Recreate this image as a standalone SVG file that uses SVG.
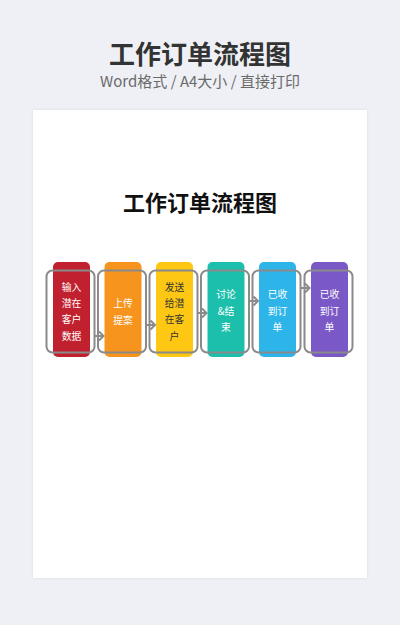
<svg xmlns="http://www.w3.org/2000/svg" width="400" height="625" viewBox="0 0 400 625">
<defs>
<style>
.hd{font-family:"Noto Sans CJK SC","Noto Sans",sans-serif;text-anchor:middle}
.t{font-family:"Noto Sans CJK SC","Noto Sans",sans-serif;font-size:9.8px;text-anchor:middle;fill:#fff}
.dk{fill:#333}
.ol{fill:none;stroke:#8a8a8a;stroke-width:2}
.ar{fill:none;stroke:#8a8a8a;stroke-width:2;stroke-linejoin:miter}
</style>
<filter id="sh" x="-5%" y="-5%" width="110%" height="110%"><feDropShadow dx="0" dy="0" stdDeviation="1.5" flood-color="#000" flood-opacity="0.08"/></filter>
</defs>
<rect width="400" height="625" fill="#eef0f5"/>
<text class="hd" x="200" y="64" font-size="26" font-weight="bold" fill="#333">工作订单流程图</text>
<text class="hd" x="200" y="87" font-size="15" fill="#6b6b6b">Word格式 / A4大小 / 直接打印</text>
<rect x="33" y="110" width="334" height="468" fill="#fff" filter="url(#sh)"/>
<text class="hd" x="200" y="211" font-size="22" font-weight="bold" fill="#111">工作订单流程图</text>

<g id="n1"><rect x="53" y="262" width="37" height="95" rx="5" fill="#c1212e"/><text class="t"><tspan x="71.5" y="290.5">输入</tspan><tspan x="71.5" y="307">潜在</tspan><tspan x="71.5" y="323">客户</tspan><tspan x="71.5" y="339.5">数据</tspan></text></g>
<g id="n2"><rect x="104.5" y="262" width="37" height="95" rx="5" fill="#f7941d"/><text class="t"><tspan x="123" y="307">上传</tspan><tspan x="123" y="323.5">提案</tspan></text></g>
<g id="n3"><rect x="156" y="262" width="37" height="95" rx="5" fill="#fdc713"/><text class="t dk"><tspan x="174.5" y="290.5">发送</tspan><tspan x="174.5" y="307">给潜</tspan><tspan x="174.5" y="323">在客</tspan><tspan x="174.5" y="339.5">户</tspan></text></g>
<g id="n4"><rect x="207.5" y="262" width="37" height="95" rx="5" fill="#1cbfab"/><text class="t"><tspan x="226" y="298">讨论</tspan><tspan x="226" y="314.5">&amp;结</tspan><tspan x="226" y="331">束</tspan></text></g>
<g id="n5"><rect x="259" y="262" width="37" height="95" rx="5" fill="#2db5ea"/><text class="t"><tspan x="277.5" y="298">已收</tspan><tspan x="277.5" y="314.5">到订</tspan><tspan x="277.5" y="331">单</tspan></text></g>
<g id="n6"><rect x="311" y="262" width="37" height="95" rx="5" fill="#7a58c6"/><text class="t"><tspan x="329.5" y="298">已收</tspan><tspan x="329.5" y="314.5">到订</tspan><tspan x="329.5" y="331">单</tspan></text></g>

<g id="connectors">
<rect class="ol" x="46.5" y="270.5" width="48" height="82" rx="6"/>
<rect class="ol" x="98" y="270.5" width="48" height="82" rx="6"/>
<rect class="ol" x="149.5" y="270.5" width="48" height="82" rx="6"/>
<rect class="ol" x="201" y="270.5" width="48" height="82" rx="6"/>
<rect class="ol" x="252.5" y="270.5" width="48" height="82" rx="6"/>
<rect class="ol" x="304.5" y="270.5" width="48" height="82" rx="6"/>
<path class="ar" d="M94.5 336H103.5M99 331.5L103.5 336L99 340.5"/>
<path class="ar" d="M146 325H155M150.5 320.5L155 325L150.5 329.5"/>
<path class="ar" d="M197.5 313H206.5M202 308.5L206.5 313L202 317.5"/>
<path class="ar" d="M249 301H258M253.5 296.5L258 301L253.5 305.5"/>
<path class="ar" d="M300.5 288H309.5M305 283.5L309.5 288L305 292.5"/>
</g>
</svg>
